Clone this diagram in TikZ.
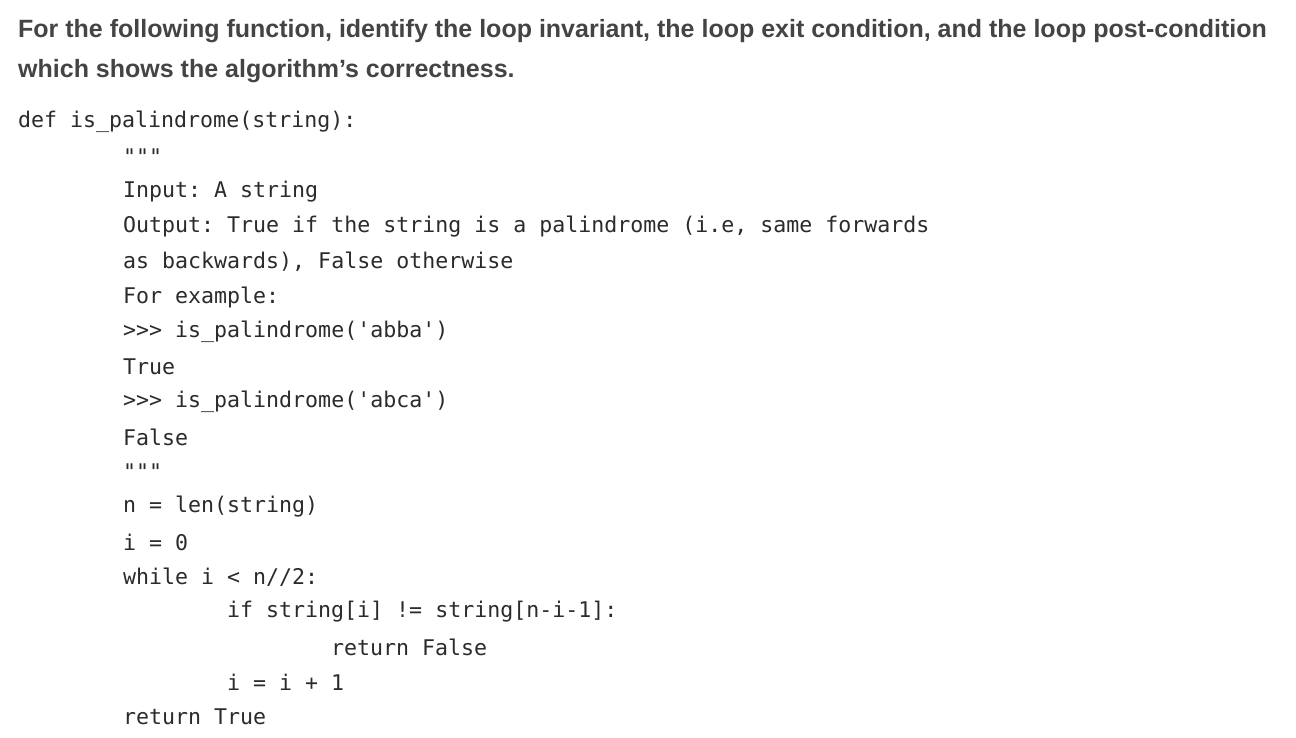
\documentclass[tikz,border=0pt]{standalone}
\usepackage{fontspec}
\setmainfont{Liberation Sans}
\newfontfamily\codefont{DejaVu Sans Mono}
\definecolor{head}{HTML}{444444}
\definecolor{codec}{HTML}{2B2B2B}
\frenchspacing
\begin{document}
\begin{tikzpicture}[x=1pt,y=-1pt,
  hd/.style={anchor=west,inner sep=0pt,text=head,font=\fontsize{25}{28}\selectfont\bfseries},
  cd/.style={anchor=west,inner sep=0pt,text=codec,font=\codefont\fontsize{21.6}{26}\selectfont\frenchspacing}]
\useasboundingbox (0,0) rectangle (1296,737);
\node[hd] (h1) at (18,31) {For the following function, identify the loop invariant, the loop exit condition, and the loop post-condition};
\node[hd] (h2) at (18,71) {which shows the algorithm’s correctness.};
\node[cd] (c1) at (18,122) {def is\_palindrome(string):};
\node[cd] (c2) at (123,157) {"""};
\node[cd] (c3) at (123,192) {Input: A string};
\node[cd] (c4) at (123,227) {Output: True if the string is a palindrome (i.e, same forwards};
\node[cd] (c5) at (123,262) {as backwards), False otherwise};
\node[cd] (c6) at (123,297) {For example:};
\node[cd] (c7) at (123,332) {>{}>{}> is\_palindrome('abba')};
\node[cd] (c8) at (123,367) {True};
\node[cd] (c9) at (123,402) {>{}>{}> is\_palindrome('abca')};
\node[cd] (c10) at (123,437) {False};
\node[cd] (c11) at (123,472) {"""};
\node[cd] (c12) at (123,507) {n = len(string)};
\node[cd] (c13) at (123,542) {i = 0};
\node[cd] (c14) at (123,577) {while i < n//2:};
\node[cd] (c15) at (227,612) {if string[i] != string[n-i-1]:};
\node[cd] (c16) at (331,647) {return False};
\node[cd] (c17) at (227,682) {i = i + 1};
\node[cd] (c18) at (123,717) {return True};
\end{tikzpicture}
\end{document}
